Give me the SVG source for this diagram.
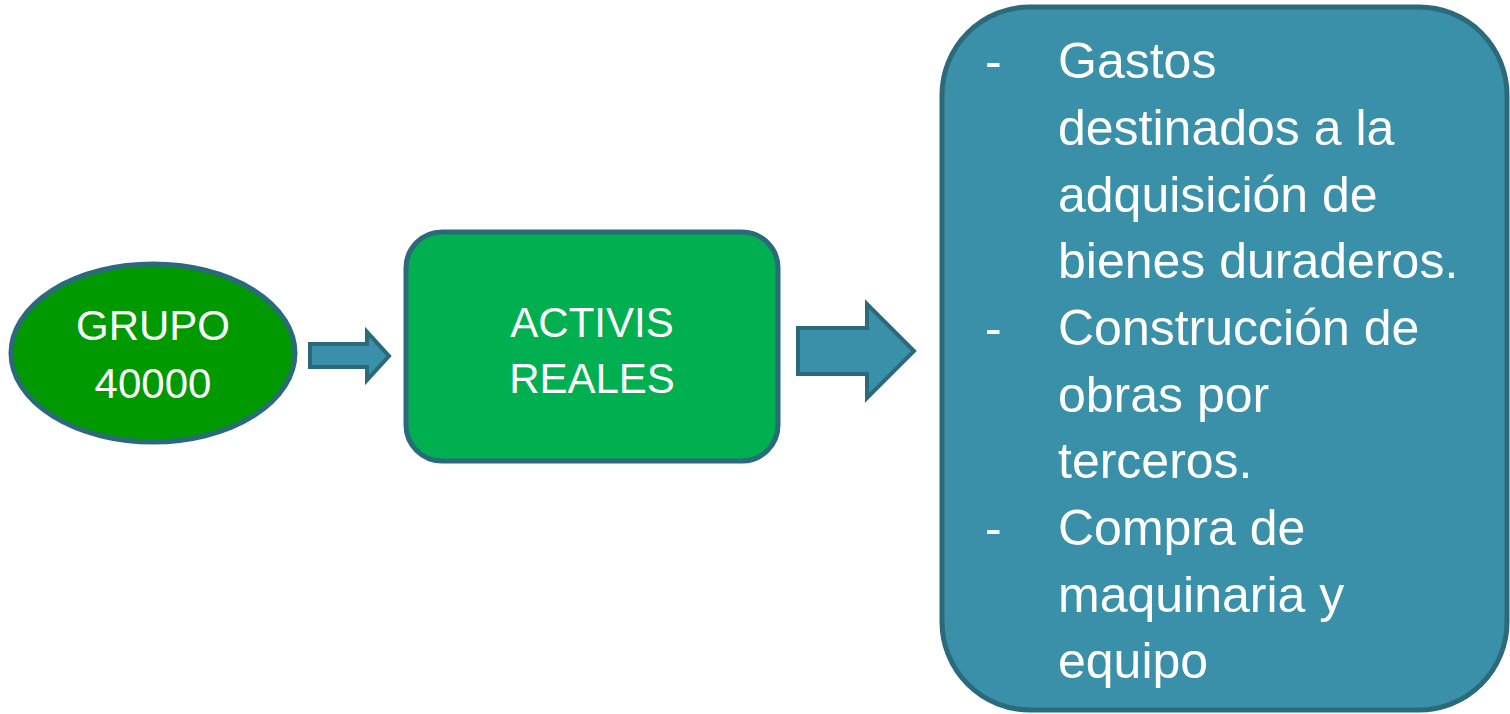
<svg xmlns="http://www.w3.org/2000/svg" width="1510" height="714" viewBox="0 0 1510 714">
<style>
.st{stroke:#2a6a7b;stroke-width:5}
.t{font-family:"Liberation Sans",Arial,sans-serif;fill:#ffffff}
.c{font-size:42px;text-anchor:middle}
.b{font-size:50px}
.arr{fill:#3a90a8;stroke:#2a6a7b;stroke-width:4;stroke-linejoin:miter}
</style>
<rect width="1510" height="714" fill="#ffffff"/>
<g id="connectors">
<polygon class="arr" points="310,344 367,344 367,332 389,356 367,380 367,367 310,367"/>
<polygon class="arr" points="798,328 867,328 867,304 914,351 867,398 867,374 798,374"/>
</g>
<g id="grupo">
<ellipse class="st" cx="153" cy="353" rx="142" ry="89" fill="#009900"/>
<text class="t c" x="153" y="340">GRUPO</text>
<text class="t c" x="153" y="398">40000</text>
</g>
<g id="activis">
<rect class="st" x="406" y="232" width="372" height="229" rx="36" fill="#00b050"/>
<text class="t c" x="592" y="337">ACTIVIS</text>
<text class="t c" x="592" y="393">REALES</text>
</g>
<g id="detalle">
<rect class="st" x="942" y="7" width="565" height="703" rx="88" fill="#3a90a8"/>
<g class="t b">
<text x="985" y="78">-</text>
<text x="1058" y="78">Gastos</text>
<text x="1058" y="145">destinados a la</text>
<text x="1058" y="212">adquisición de</text>
<text x="1058" y="278">bienes duraderos.</text>
<text x="985" y="345">-</text>
<text x="1058" y="345">Construcción de</text>
<text x="1058" y="412">obras por</text>
<text x="1058" y="478">terceros.</text>
<text x="985" y="545">-</text>
<text x="1058" y="545">Compra de</text>
<text x="1058" y="612">maquinaria y</text>
<text x="1058" y="678">equipo</text>
</g>
</g>
</svg>
